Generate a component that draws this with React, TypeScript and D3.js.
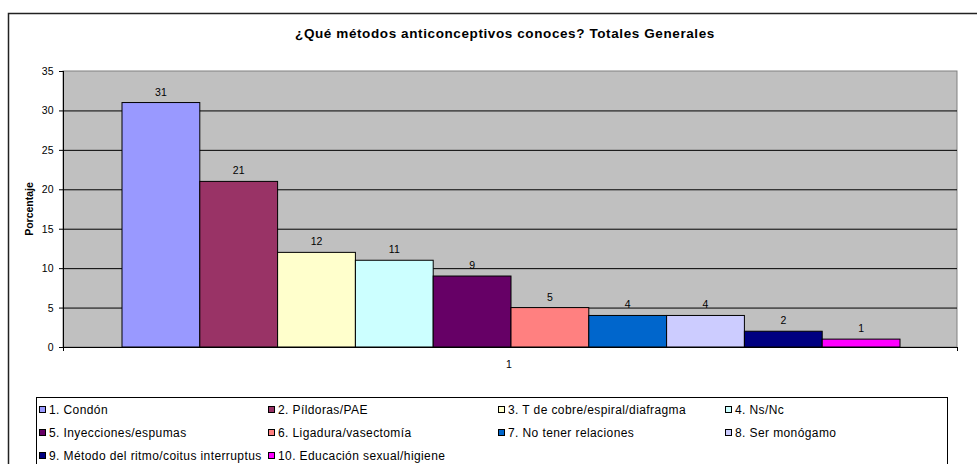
import React from 'react';
import * as d3 from 'd3';

const seriesNames = [
  '1. Condón',
  '2. Píldoras/PAE',
  '3. T de cobre/espiral/diafragma',
  '4. Ns/Nc',
  '5. Inyecciones/espumas',
  '6. Ligadura/vasectomía',
  '7. No tener relaciones',
  '8. Ser monógamo',
  '9. Método del ritmo/coitus interruptus',
  '10. Educación sexual/higiene',
];
const seriesValues = [31, 21, 12, 11, 9, 5, 4, 4, 2, 1];
const seriesColors = [
  '#9999FF', '#993366', '#FFFFCC', '#CCFFFF', '#660066',
  '#FF8080', '#0066CC', '#CCCCFF', '#000080', '#FF00FF',
];
const yTicks = [0, 5, 10, 15, 20, 25, 30, 35];
const categories = ['1'];

const W = 977;
const H = 464;
const font = 'Liberation Sans, Arial, sans-serif';

export default function App() {
  const left = 63, right = 957, top = 71, bottom = 347;

  const x0 = d3.scaleBand().domain(categories).range([left, right]);
  // bars fill the middle of the single category, with a gap on each side
  const x1 = d3.scaleBand()
    .domain(seriesNames)
    .range([122, 900]);
  const y = d3.scaleLinear().domain([0, 35]).range([bottom, top]);

  const legendCols = [39, 268, 498, 725];

  return (
    <div style={{ position: 'absolute', left: 0, top: 0 }}>
      <svg width={W} height={H} style={{ display: 'block', fontFamily: font }}>
        <rect x={0} y={0} width={W} height={H} fill="#fff" />
        <rect x={8.5} y={13.5} width={1000} height={500} fill="#fff" stroke="#222" strokeWidth={1.5} />
        <text x={505} y={38} textAnchor="middle" fontSize={13.5} letterSpacing={0.6} fontWeight="bold" fill="#000">
          ¿Qué métodos anticonceptivos conoces? Totales Generales
        </text>

        <rect x={left} y={top} width={right - left} height={bottom - top} fill="#C0C0C0" stroke="#808080" />
        {yTicks.filter(t => t > 0 && t < 35).map(t => (
          <line key={t} x1={left} x2={right} y1={y(t) + 0.5} y2={y(t) + 0.5} stroke="#000" />
        ))}

        {seriesNames.map((s, i) => (
          <rect key={s} x={x1(s)!} y={y(seriesValues[i])} width={x1.bandwidth()}
            height={bottom - y(seriesValues[i])} fill={seriesColors[i]} stroke="#000" strokeWidth={1} />
        ))}
        {seriesNames.map((s, i) => (
          <text key={s} x={x1(s)! + x1.bandwidth() / 2} y={y(seriesValues[i]) - 7}
            textAnchor="middle" fontSize={10.5} fill="#000">{seriesValues[i]}</text>
        ))}

        <line x1={left + 0.5} x2={left + 0.5} y1={top} y2={bottom} stroke="#000" />
        <line x1={left} x2={right} y1={bottom + 0.5} y2={bottom + 0.5} stroke="#000" />
        {yTicks.map(t => (
          <g key={t}>
            <line x1={left - 4} x2={left} y1={y(t) + 0.5} y2={y(t) + 0.5} stroke="#000" />
            <text x={54} y={y(t) + 4} textAnchor="end" fontSize={10.5} letterSpacing={0.3} fill="#000">{t}</text>
          </g>
        ))}
        {[left, right].map(v => (
          <line key={v} x1={v + 0.5} x2={v + 0.5} y1={bottom} y2={bottom + 4} stroke="#000" />
        ))}
        {categories.map(c => (
          <text key={c} x={x0(c)! + x0.bandwidth() / 2 - 1} y={368} textAnchor="middle" fontSize={10.5} fill="#000">{c}</text>
        ))}

        <text transform={`translate(33,${(top + bottom) / 2}) rotate(-90)`} textAnchor="middle"
          fontSize={10.5} fontWeight="bold" fill="#000">Porcentaje</text>

        <rect x={36.5} y={397.5} width={911} height={100} fill="#fff" stroke="#000" />
        {seriesNames.map((s, i) => {
          const col = i % 4;
          const row = Math.floor(i / 4);
          const lx = legendCols[col];
          const ly = 410 + row * 23;
          return (
            <g key={s}>
              <rect x={lx + 0.5} y={ly - 3.5} width={6} height={6} fill={seriesColors[i]} stroke="#000" />
              <text x={lx + 10} y={ly + 4} fontSize={12} letterSpacing={0.4} fill="#000">{s}</text>
            </g>
          );
        })}
      </svg>
    </div>
  );
}
